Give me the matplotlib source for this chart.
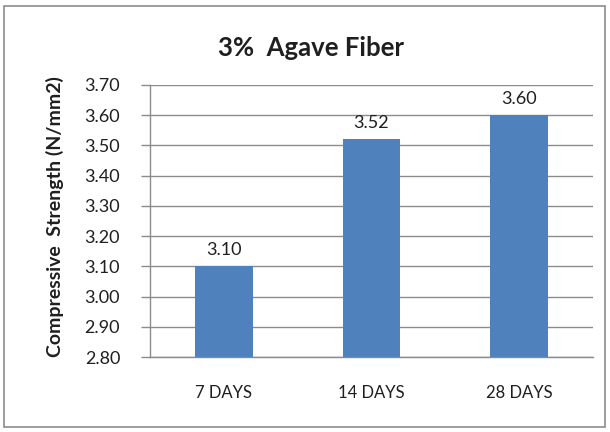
import matplotlib
matplotlib.use("Agg")
import matplotlib.pyplot as plt
from matplotlib.patches import Rectangle

categories = ["7 DAYS", "14 DAYS", "28 DAYS"]
strength = [3.10, 3.52, 3.60]
yticks = [2.80, 2.90, 3.00, 3.10, 3.20, 3.30, 3.40, 3.50, 3.60, 3.70]

plt.rcParams["font.family"] = ["Lato", "DejaVu Sans"]
grey = "#8c8c8c"
ink = "#1f1f1f"

fig = plt.figure(figsize=(6.10, 4.32), dpi=100)
fig.patches.append(Rectangle((4 / 610, 5 / 432), 601 / 610, 421 / 432,
                             transform=fig.transFigure, fill=False,
                             edgecolor=grey, linewidth=1.2))

ax = fig.add_axes([150 / 610, 1 - 357 / 432, 443 / 610, 272 / 432])
x = range(len(categories))
bars = ax.bar(x, strength, width=0.39, color="#4f81bd", zorder=3)
for b, v in zip(bars, strength):
    ax.text(b.get_x() + b.get_width() / 2, v + 0.028, f"{v:.2f}",
            ha="center", va="bottom", fontsize=13, color=ink)

ax.set_xlim(-0.5, len(categories) - 0.5)
ax.set_ylim(2.80, 3.70)
ax.set_yticks(yticks)
ax.set_yticklabels([f"{t:.2f}" for t in yticks], fontsize=13, color=ink)
ax.set_xticks(list(x))
ax.set_xticklabels(categories, fontsize=12, color=ink)
ax.tick_params(axis="x", length=0, pad=20)
ax.tick_params(axis="y", length=6.5, color=grey, width=1, pad=15)
ax.grid(axis="y", color=grey, linewidth=1, zorder=0)
for side in ["top", "right"]:
    ax.spines[side].set_visible(False)
for side in ["left", "bottom"]:
    ax.spines[side].set_color(grey)
    ax.spines[side].set_linewidth(1)

fig.text(55 / 610, 1 - 217 / 432, "Compressive  Strength (N/mm2)",
         rotation=90, ha="center", va="center", fontsize=14,
         fontweight="bold", color=ink)
fig.text(311 / 610, 1 - 48 / 432, "3%  Agave Fiber",
         ha="center", va="center", fontsize=18.5, fontweight="bold", color=ink)

fig.savefig("out.png", dpi=100)
